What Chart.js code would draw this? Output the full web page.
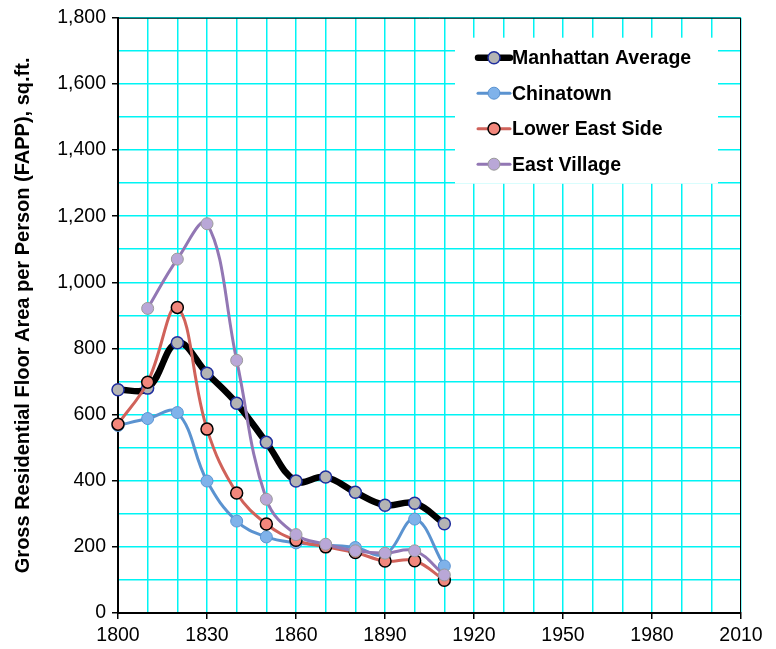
<!DOCTYPE html>
<html>
<head>
<meta charset="utf-8">
<script src="https://cdn.jsdelivr.net/npm/chart.js@4.4.1/dist/chart.umd.min.js"></script>
<style>
  html, body { margin: 0; padding: 0; background: #fff; }
  #wrap { width: 776px; height: 649px; }
</style>
</head>
<body>
<div id="wrap"><canvas id="fappChart"></canvas></div>
<script>
const years = [1800, 1810, 1820, 1830, 1840, 1850, 1860, 1870, 1880, 1890, 1900, 1910];
const manhattanAvg = [675, 680, 817, 725, 634, 516, 399, 411, 365, 326, 332, 270];
const chinatown = [567, 588, 606, 399, 278, 230, 212, 205, 198, 178, 284, 142];
const lowerEastSide = [571, 698, 924, 556, 363, 269, 220, 200, 183, 157, 158, 99];
const eastVillage = [null, 921, 1070, 1177, 764, 344, 237, 208, 188, 181, 188, 115];
const xTickLabels = [1800, 1830, 1860, 1890, 1920, 1950, 1980, 2010];
const yTickLabels = [0, 200, 400, 600, 800, 1000, 1200, 1400, 1600, 1800];

const FONT = "'Liberation Sans', Arial, sans-serif";

function toXY(vals) {
    return years.map((y, i) => ({ x: y, y: vals[i] }));
}

// white legend box drawn inside the plot area, top right
const boxLegend = {
    id: 'boxLegend',
    afterDraw(chart) {
        const ctx = chart.ctx;
        const area = chart.chartArea;
        const bx = area.right - 286, by = area.top + 20;
        ctx.save();
        ctx.fillStyle = '#fff';
        ctx.fillRect(bx, by, 263, 146);
        chart.data.datasets.forEach((ds, i) => {
            const cy = by + 20 + i * 35.5;
            const x0 = bx + 23, x1 = bx + 55, cx = (x0 + x1) / 2;
            ctx.strokeStyle = ds.borderColor;
            ctx.lineWidth = ds.borderWidth;
            ctx.lineCap = 'round';
            ctx.beginPath();
            ctx.moveTo(x0, cy);
            ctx.lineTo(x1, cy);
            ctx.stroke();
            ctx.beginPath();
            ctx.arc(cx, cy, 6, 0, Math.PI * 2);
            ctx.fillStyle = ds.pointBackgroundColor;
            ctx.fill();
            ctx.lineWidth = ds.pointBorderWidth;
            ctx.strokeStyle = ds.pointBorderColor;
            ctx.stroke();
            ctx.fillStyle = '#000';
            ctx.font = 'bold 19.5px ' + FONT;
            ctx.textBaseline = 'middle';
            ctx.fillText(ds.label, x1 + 2, cy + 1);
        });
        ctx.restore();
    }
};

// thin frame on top and right of the plot
const plotFrame = {
    id: 'plotFrame',
    beforeDatasetsDraw(chart) {
        const a = chart.chartArea;
        const ctx = chart.ctx;
        ctx.save();
        ctx.strokeStyle = '#000';
        ctx.lineWidth = 1;
        ctx.beginPath();
        ctx.moveTo(a.left, a.top + 0.5);
        ctx.lineTo(a.right - 0.5, a.top + 0.5);
        ctx.lineTo(a.right - 0.5, a.bottom);
        ctx.stroke();
        ctx.restore();
    }
};

new Chart(document.getElementById('fappChart'), {
    type: 'line',
    data: {
        datasets: [
            {
                label: 'Manhattan Average',
                data: toXY(manhattanAvg),
                borderColor: '#000',
                borderWidth: 6.5,
                pointBackgroundColor: '#b4b4b4',
                pointBorderColor: '#1f2e9e',
                pointBorderWidth: 1.5,
                order: 4
            },
            {
                label: 'Chinatown',
                data: toXY(chinatown),
                borderColor: '#5b93d0',
                borderWidth: 3,
                pointBackgroundColor: '#7fb2ea',
                pointBorderColor: '#5b93d0',
                pointBorderWidth: 1,
                order: 3
            },
            {
                label: 'Lower East Side',
                data: toXY(lowerEastSide),
                borderColor: '#d0625a',
                borderWidth: 3,
                pointBackgroundColor: '#f2877c',
                pointBorderColor: '#000',
                pointBorderWidth: 1.5,
                order: 2
            },
            {
                label: 'East Village',
                data: toXY(eastVillage),
                borderColor: '#9277b4',
                borderWidth: 3,
                pointBackgroundColor: '#b9a7d7',
                pointBorderColor: '#9a9a9a',
                pointBorderWidth: 1,
                order: 1
            }
        ]
    },
    options: {
        responsive: true,
        maintainAspectRatio: false,
        animation: false,
        datasets: {
            line: {
                tension: 0.4,
                pointRadius: 6,
                clip: 10,
                spanGaps: false
            }
        },
        layout: {
            padding: { left: 0, right: 35, top: 17, bottom: 0 }
        },
        plugins: {
            legend: { display: false },
            tooltip: { enabled: false }
        },
        scales: {
            x: {
                type: 'linear',
                min: 1800,
                max: 2010,
                afterFit: s => { s.height = 36; },
                border: { color: '#000', width: 2 },
                grid: {
                    color: '#00f4f4',
                    lineWidth: 1.5,
                    tickLength: 6,
                    tickColor: c => (c.tick && xTickLabels.includes(c.tick.value)) ? '#000' : 'rgba(0,0,0,0)',
                    tickWidth: 1.5
                },
                ticks: {
                    stepSize: 10,
                    autoSkip: false,
                    maxRotation: 0,
                    padding: 5,
                    color: '#000',
                    font: { family: FONT, size: 19.5 },
                    callback: v => xTickLabels.includes(v) ? String(v) : ''
                }
            },
            y: {
                min: 0,
                max: 1800,
                afterFit: s => { s.width = 118; },
                border: { color: '#000', width: 2 },
                grid: {
                    color: '#00f4f4',
                    lineWidth: 1.5,
                    tickLength: 6,
                    tickColor: c => (c.tick && yTickLabels.includes(c.tick.value)) ? '#000' : 'rgba(0,0,0,0)',
                    tickWidth: 1.5
                },
                ticks: {
                    stepSize: 100,
                    autoSkip: false,
                    padding: 6,
                    color: '#000',
                    font: { family: FONT, size: 19.5 },
                    callback: v => yTickLabels.includes(v) ? v.toLocaleString('en-US') : ''
                },
                title: {
                    display: true,
                    text: 'Gross Residential Floor Area per Person (FAPP), sq.ft.',
                    color: '#000',
                    font: { family: FONT, size: 20, weight: 'bold' },
                    padding: { top: 11, bottom: 0 }
                }
            }
        }
    },
    plugins: [plotFrame, boxLegend]
});
</script>
</body>
</html>
